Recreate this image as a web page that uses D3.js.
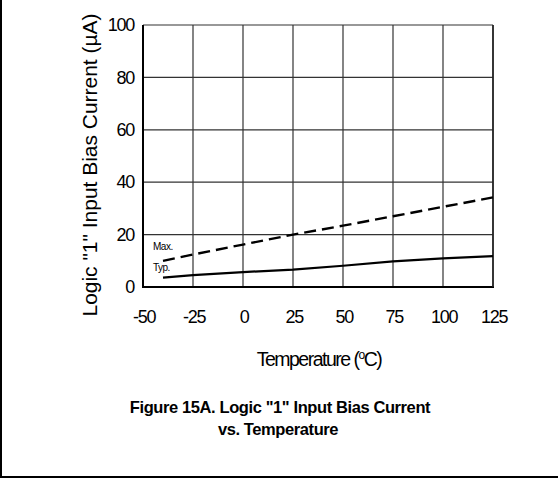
<!DOCTYPE html>
<html><head><meta charset="utf-8">
<script src="https://cdn.jsdelivr.net/npm/d3@7"></script>
<style>body{margin:0;background:#fff}svg{display:block;font-family:"Liberation Sans",Arial,sans-serif}</style>
</head><body>
<script>
const xTicks = [-50, -25, 0, 25, 50, 75, 100, 125];
const yTicks = [0, 20, 40, 60, 80, 100];
const maxTemp = [-40, -25, 0, 25, 50, 75, 100, 125];
const maxVals = [10, 12.4, 16.2, 20, 23.4, 27, 30.6, 34.2];
const typTemp = [-40, -25, 0, 25, 50, 75, 100, 125];
const typVals = [3.6, 4.5, 5.7, 6.6, 8.1, 9.8, 10.9, 11.8];
const seriesNames = ["Max.", "Typ."];

const W = 558, H = 478;
const FONT = "'Liberation Sans',Arial,sans-serif";
const svg = d3.select("body").append("svg").attr("width", W).attr("height", H);
svg.append("rect").attr("width", W).attr("height", H).attr("fill", "#fff");
// outer frame (left and bottom)
svg.append("line").attr("x1", 1).attr("x2", 1).attr("y1", 0).attr("y2", H).attr("stroke", "#000").attr("stroke-width", 2);
svg.append("line").attr("x1", 0).attr("x2", W).attr("y1", 477).attr("y2", 477).attr("stroke", "#000").attr("stroke-width", 2);

const x = d3.scaleLinear().domain([-50, 125]).range([143, 493]);
const y = d3.scaleLinear().domain([0, 100]).range([287, 25]);

// gridlines
const g = svg.append("g");
g.selectAll(".vx").data(xTicks).join("line")
  .attr("x1", d => x(d)).attr("x2", d => x(d)).attr("y1", y(100)).attr("y2", y(0))
  .attr("stroke", "#333").attr("stroke-width", 1.2);
g.selectAll(".hy").data(yTicks).join("line")
  .attr("x1", x(-50)).attr("x2", x(125)).attr("y1", d => y(d)).attr("y2", d => y(d))
  .attr("stroke", "#333").attr("stroke-width", 1.2);
// heavier axes
svg.append("line").attr("x1", x(-50)).attr("x2", x(-50)).attr("y1", y(100)).attr("y2", y(0)+1).attr("stroke", "#000").attr("stroke-width", 2);
svg.append("line").attr("x1", x(-50)).attr("x2", x(125)+1).attr("y1", y(0)).attr("y2", y(0)).attr("stroke", "#000").attr("stroke-width", 2);
svg.append("line").attr("x1", x(125)).attr("x2", x(125)).attr("y1", y(100)).attr("y2", y(0)).attr("stroke", "#222").attr("stroke-width", 1.6);

// axes labels via d3 axes
const xAxis = svg.append("g").attr("transform", `translate(0,${y(0)})`)
  .call(d3.axisBottom(x).tickValues(xTicks).tickSize(0).tickPadding(23).tickFormat(d => String(d)));
xAxis.select(".domain").remove();
xAxis.selectAll("text").attr("font-size", 18).attr("fill", "#000").attr("letter-spacing", -1.3)
  .attr("font-family", FONT).attr("dx", 0.65);
const yAxis = svg.append("g").attr("transform", `translate(${x(-50)},0)`)
  .call(d3.axisLeft(y).tickValues(yTicks).tickSize(0).tickPadding(9).tickFormat(d => String(d)));
yAxis.select(".domain").remove();
yAxis.selectAll("text").attr("font-size", 18).attr("fill", "#000").attr("letter-spacing", -1.3)
  .attr("font-family", FONT);

// data lines
const line = d3.line().x(d => x(d[0])).y(d => y(d[1]));
svg.append("path").datum(d3.zip(maxTemp, maxVals)).attr("d", line)
  .attr("fill", "none").attr("stroke", "#000").attr("stroke-width", 2.4).attr("stroke-dasharray", "12,6");
svg.append("path").datum(d3.zip(typTemp, typVals)).attr("d", line)
  .attr("fill", "none").attr("stroke", "#000").attr("stroke-width", 2.2);

// series labels
svg.append("text").attr("x", 153).attr("y", 250).attr("font-size", 10).attr("letter-spacing", -0.5).text(seriesNames[0]);
svg.append("text").attr("x", 153).attr("y", 271).attr("font-size", 10).attr("letter-spacing", -0.5).text(seriesNames[1]);

// axis titles
svg.append("text").attr("transform", "translate(97,165) rotate(-90)").attr("text-anchor", "middle")
  .attr("font-size", 21).attr("textLength", 303).attr("lengthAdjust", "spacing")
  .text("Logic \"1\" Input Bias Current (µA)");
const xt = svg.append("text").attr("x", 319).attr("y", 366).attr("text-anchor", "middle")
  .attr("font-size", 19.5).attr("letter-spacing", -1.5);
xt.append("tspan").text("Temperature (");
xt.append("tspan").attr("dy", -7).attr("font-size", 12).text("o");
xt.append("tspan").attr("dy", 7).text("C)");

// figure title
svg.append("text").attr("x", 280).attr("y", 413).attr("text-anchor", "middle")
  .attr("font-size", 16.5).attr("font-weight", "bold").attr("letter-spacing", -0.4)
  .text("Figure 15A. Logic \"1\" Input Bias Current");
svg.append("text").attr("x", 278).attr("y", 435).attr("text-anchor", "middle")
  .attr("font-size", 16.5).attr("font-weight", "bold").attr("letter-spacing", -0.4)
  .text("vs. Temperature");
</script>
</body></html>
